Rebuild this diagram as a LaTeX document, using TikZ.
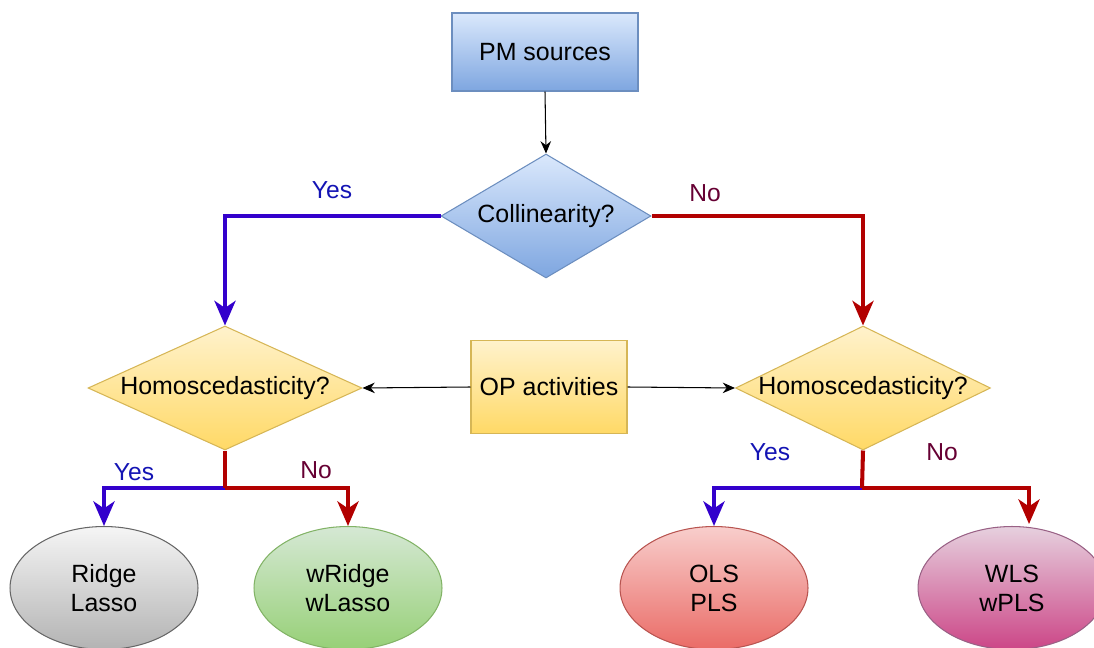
\documentclass[tikz,border=0pt]{standalone}
\usepackage{fontspec}
\setmainfont{Liberation Sans}
\usetikzlibrary{shapes.geometric,arrows.meta}
\definecolor{yescol}{RGB}{51,0,204}
\definecolor{nocol}{RGB}{178,0,0}
\definecolor{yestxt}{RGB}{20,20,180}
\definecolor{notxt}{RGB}{102,0,51}
\tikzset{
  x=0.02cm,y=-0.02cm,
  every node/.style={font=\fontsize{14.2}{16.5}\selectfont},
  bluebox/.style={draw={rgb,255:red,108;green,142;blue,191},top color={rgb,255:red,218;green,232;blue,252},bottom color={rgb,255:red,126;green,166;blue,224},line width=0.6pt,inner sep=0pt},
  yelbox/.style={draw={rgb,255:red,214;green,182;blue,86},top color={rgb,255:red,255;green,242;blue,204},bottom color={rgb,255:red,255;green,217;blue,102},line width=0.6pt,inner sep=0pt},
  dia/.style={shape=diamond,inner sep=0pt,shape aspect=2},
  ell/.style={shape=ellipse,minimum width=3.76cm,minimum height=2.46cm,inner sep=0pt,line width=0.6pt,align=center,text depth=0pt},
  blk/.style={draw=black,line width=0.6pt,-{Stealth[length=7pt,width=6pt]}},
  thickline/.style={line width=2.3pt},
  yesl/.style={thickline,draw=yescol,-{Stealth[length=14pt,width=12pt,inset=4pt]}},
  nol/.style={thickline,draw=nocol,-{Stealth[length=14pt,width=12pt,inset=4pt]}},
  lab/.style={font=\fontsize{14}{16}\selectfont,inner sep=0pt},
}
\begin{document}
\begin{tikzpicture}
\useasboundingbox (0,0) rectangle (1094,648);
% nodes
\node[bluebox,rectangle,minimum width=3.72cm,minimum height=1.56cm] (pm) at (545,52) {PM sources};
\node[bluebox,dia,minimum width=4.2cm,minimum height=2.48cm,label={center:Collinearity?}] (col) at (546,216) {};
\node[yelbox,dia,minimum width=5.48cm,minimum height=2.48cm,label={center:Homoscedasticity?}] (hl) at (225,388) {};
\node[yelbox,dia,minimum width=5.1cm,minimum height=2.48cm,label={center:Homoscedasticity?}] (hr) at (863,388) {};
\node[yelbox,rectangle,minimum width=3.12cm,minimum height=1.86cm] (op) at (549,387) {OP activities};
\node[ell,draw={rgb,255:red,102;green,102;blue,102},top color={rgb,255:red,245;green,245;blue,245},bottom color={rgb,255:red,179;green,179;blue,179}] (ridge) at (104,588) {Ridge\\Lasso};
\node[ell,draw={rgb,255:red,130;green,179;blue,102},top color={rgb,255:red,213;green,232;blue,212},bottom color={rgb,255:red,151;green,208;blue,119}] (wridge) at (348,588) {wRidge\\wLasso};
\node[ell,draw={rgb,255:red,184;green,84;blue,80},top color={rgb,255:red,248;green,206;blue,204},bottom color={rgb,255:red,234;green,107;blue,102}] (ols) at (714,588) {OLS\\PLS};
\node[ell,draw={rgb,255:red,153;green,97;blue,133},top color={rgb,255:red,230;green,208;blue,222},bottom color={rgb,255:red,204;green,70;blue,135}] (wls) at (1012,588) {WLS\\wPLS};
% labels
\node[lab,text=yestxt] (y1) at (332,190) {Yes};
\node[lab,text=notxt] (n1) at (705,193) {No};
\node[lab,text=yestxt] (y2) at (134,472) {Yes};
\node[lab,text=notxt] (n2) at (316,470) {No};
\node[lab,text=yestxt] (y3) at (770,452) {Yes};
\node[lab,text=notxt] (n3) at (942,452) {No};
% junctions
\coordinate (jl) at (225,488);
\coordinate (jr) at (862,488);
\coordinate (wlsin) at (1029,524);
% connectors
\draw[blk] (pm.south) -- (col.north);
\draw[yesl] (col.west) -| (hl.north);
\draw[nol] (col.east) -| (hr.north);
\draw[blk] (op.west) -- (hl.east);
\draw[blk] (op.east) -- (hr.west);
\draw[yesl] (jl) -| (ridge.north);
\draw[nol] (jl) -| (wridge.north);
\draw[thickline,draw=nocol] (hl.south) -- (jl);
\draw[yesl] (jr) -| (ols.north);
\draw[nol] (jr) -| (wlsin);
\draw[thickline,draw=nocol] (hr.south) -- (jr);
\end{tikzpicture}
\end{document}
